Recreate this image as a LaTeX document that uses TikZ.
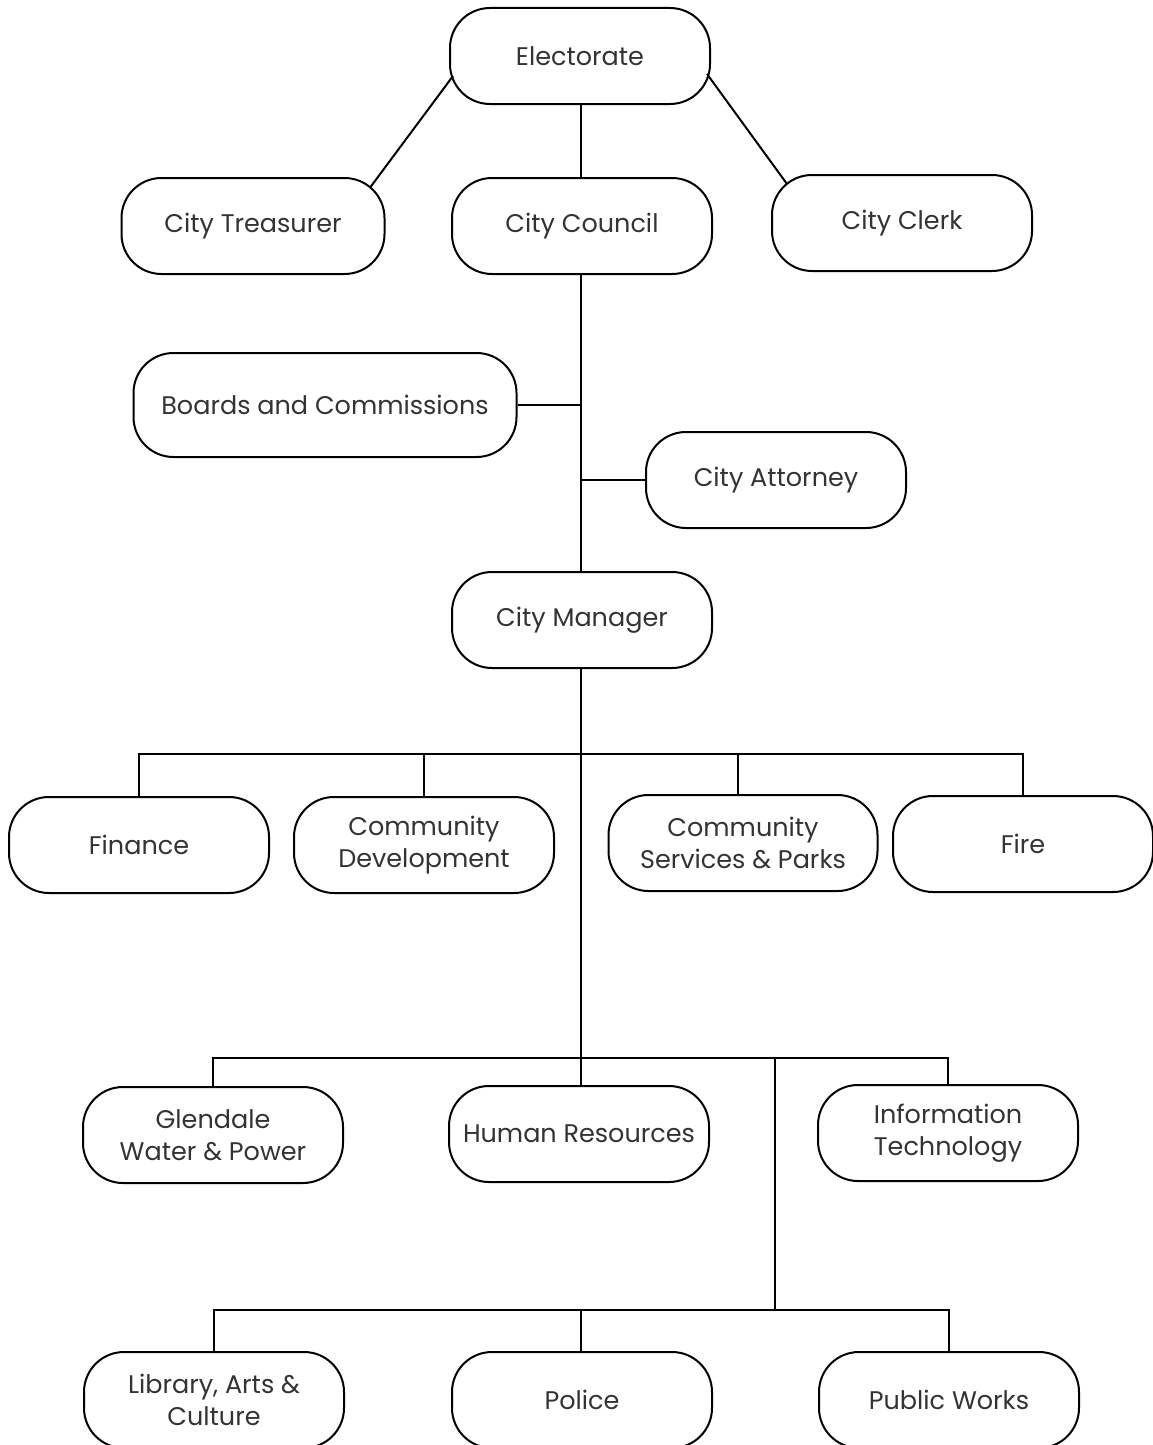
\documentclass[tikz,border=0pt]{standalone}
\usepackage{fontspec}
\setmainfont{Poppins}
\begin{document}
\begin{tikzpicture}[x=1pt, y=-1pt,
    office/.style={draw, line width=2pt, rounded corners=40pt,
        minimum width=260pt, minimum height=96pt, align=center, inner xsep=4pt,
        font=\fontsize{25.5}{32}\selectfont, text=black!80},
    link/.style={line width=2pt}]
    \useasboundingbox (0,0) rectangle (1153,1445);

    % --- Top: electorate and elected offices ---
    \node[office] (elect) at (580, 56) {Electorate};
    \node[office, minimum width=263pt] (treas) at (253, 226) {City Treasurer};
    \node[office] (council) at (582, 226) {City Council};
    \node[office] (clerk) at (902, 223) {City Clerk};

    % --- Council advisors ---
    \node[office, minimum width=383pt, minimum height=104pt] (boards) at (325, 405) {Boards and Commissions};
    \node[office] (attorney) at (776, 480) {City Attorney};
    \node[office] (manager) at (582, 620) {City Manager};

    % --- First row of departments ---
    \node[office] (finance) at (139, 845) {Finance};
    \node[office] (commdev) at (424, 845) {Community\\Development};
    \node[office, minimum width=269pt] (commserv) at (743, 843) {Community\\Services \& Parks};
    \node[office] (fire) at (1023, 844) {Fire};

    % --- Second row ---
    \node[office] (glendale) at (213, 1135) {Glendale\\Water \& Power};
    \node[office] (hr) at (579, 1134) {Human Resources};
    \node[office] (infotech) at (948, 1133) {Information\\Technology};

    % --- Third row (cut off at the bottom) ---
    \node[office] (library) at (214, 1400) {Library, Arts \&\\Culture};
    \node[office] (police) at (582, 1400) {Police};
    \node[office] (works) at (949, 1400) {Public Works};

    % --- Bus lines ---
    \coordinate (bus1) at (581, 754);
    \coordinate (bus2) at (581, 1058);
    \coordinate (split) at (775, 1058);
    \coordinate (bus3) at (775, 1310);

    % --- Connectors ---
    \draw[link] ([xshift=4pt, yshift=-20pt]elect.west) -- ([xshift=-15pt, yshift=-10pt]treas.north east);
    \draw[link] ([xshift=-4pt, yshift=-18pt]elect.east) -- ([xshift=16pt, yshift=-10pt]clerk.north west);
    \draw[link] (elect.south -| bus1) -- (council.north -| bus1);
    \draw[link] (council.south -| bus1) -- (manager.north -| bus1);
    \draw[link] (boards.east) -- (boards.east -| bus1);
    \draw[link] (attorney.west) -- (attorney.west -| bus1);
    \draw[link] (manager.south -| bus1) -- (hr.north -| bus1);

    \draw[link] (finance.north) -- (finance.north |- bus1) -- (fire.north |- bus1) -- (fire.north);
    \draw[link] (commdev.north) -- (commdev.north |- bus1);
    \draw[link] (commserv.north -| 738,0) -- (bus1 -| 738,0);

    \draw[link] (glendale.north) -- (glendale.north |- bus2) -- (infotech.north |- bus2) -- (infotech.north);
    \draw[link] (split) -- (bus3);

    \draw[link] (library.north) -- (library.north |- bus3) -- (works.north |- bus3) -- (works.north);
    \draw[link] (police.north -| bus1) -- (bus3 -| bus1);
\end{tikzpicture}
\end{document}
